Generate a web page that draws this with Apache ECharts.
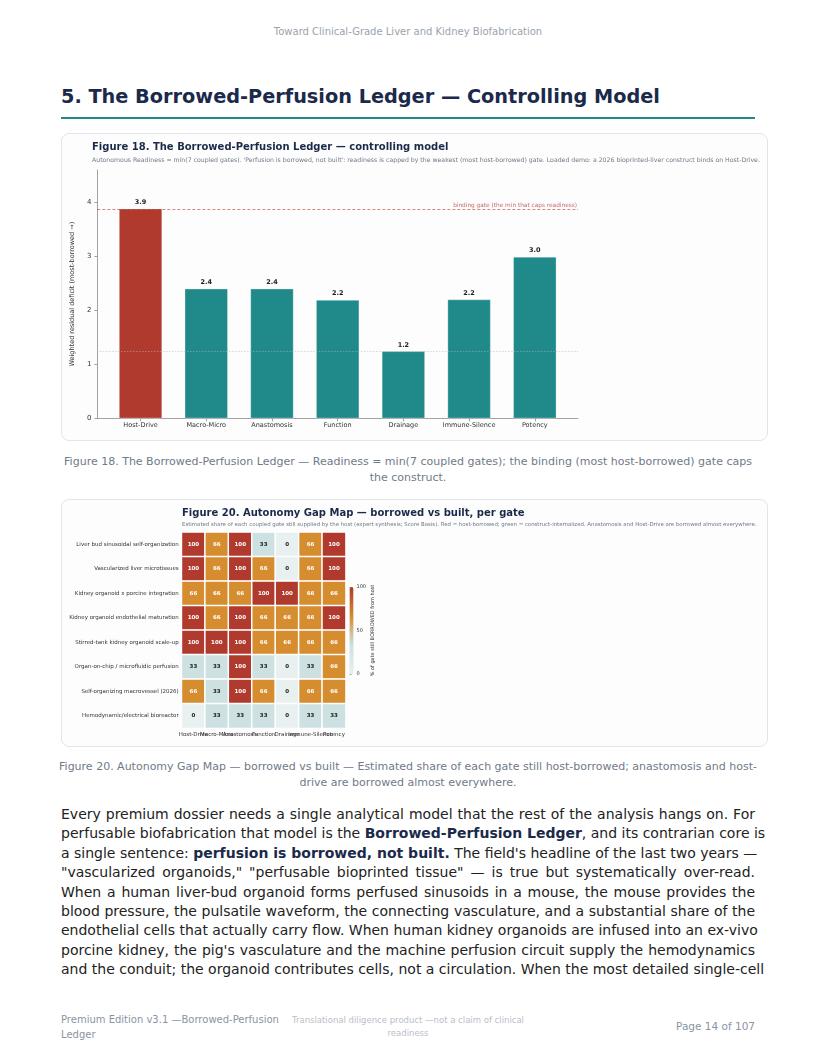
<!DOCTYPE html>
<html>
<head>
<meta charset="utf-8">
<script src="https://cdn.jsdelivr.net/npm/echarts@6/dist/echarts.min.js"></script>
<style>
  body{margin:0;background:#fff;font-family:'DejaVu Sans',sans-serif;}
  .page{position:relative;width:816px;height:1056px;overflow:hidden;}
  .abs{position:absolute;}
  .card{position:absolute;box-sizing:border-box;border:1px solid #e2e5e9;border-radius:8px;background:#fdfdfd;}
  .card .chart{position:absolute;left:-1px;top:-1px;}
  .caption{position:absolute;left:51px;width:714px;text-align:center;font-size:11px;line-height:15.5px;color:#6f7a88;white-space:nowrap;}
  .body{position:absolute;left:61px;top:805px;width:694px;font-size:14px;line-height:19.4px;color:#222;}
  .body div{text-align:justify;text-align-last:justify;white-space:nowrap;}
  .body b{color:#1b2a4a;}
</style>
</head>
<body>
<div class="page">
  <div class="abs" style="top:26px;left:0;width:816px;text-align:center;font-size:10px;color:#9aa3ae;">Toward Clinical-Grade Liver and Kidney Biofabrication</div>
  <div class="abs" style="left:61px;top:85px;font-size:19.3px;font-weight:bold;color:#1b2a4a;">5. The Borrowed-Perfusion Ledger — Controlling Model</div>
  <div class="abs" style="left:61px;top:117px;width:694px;height:2px;background:#1f8a89;"></div>

  <div class="card" style="left:61px;top:133px;width:707px;height:308px;">
    <div id="chart_ledger" class="chart" style="width:707px;height:308px;"></div>
  </div>
  <div class="caption" style="top:454px;">Figure 18. The Borrowed-Perfusion Ledger — Readiness = min(7 coupled gates); the binding (most host-borrowed) gate caps<br>the construct.</div>

  <div class="card" style="left:61px;top:499px;width:707px;height:248px;">
    <div id="chart_gap" class="chart" style="width:707px;height:248px;"></div>
  </div>
  <div class="caption" style="top:759px;">Figure 20. Autonomy Gap Map — borrowed vs built — Estimated share of each gate still host-borrowed; anastomosis and host-<br>drive are borrowed almost everywhere.</div>

  <div class="body">
    <div>Every premium dossier needs a single analytical model that the rest of the analysis hangs on. For</div>
    <div>perfusable biofabrication that model is the <b>Borrowed-Perfusion Ledger</b>, and its contrarian core is</div>
    <div>a single sentence: <b>perfusion is borrowed, not built.</b> The field's headline of the last two years —</div>
    <div>"vascularized organoids," "perfusable bioprinted tissue" — is true but systematically over-read.</div>
    <div>When a human liver-bud organoid forms perfused sinusoids in a mouse, the mouse provides the</div>
    <div>blood pressure, the pulsatile waveform, the connecting vasculature, and a substantial share of the</div>
    <div>endothelial cells that actually carry flow. When human kidney organoids are infused into an ex-vivo</div>
    <div>porcine kidney, the pig's vasculature and the machine perfusion circuit supply the hemodynamics</div>
    <div>and the conduit; the organoid contributes cells, not a circulation. When the most detailed single-cell</div>
  </div>

  <div class="abs" style="left:61px;top:1012px;width:225px;font-size:10px;line-height:15px;color:#8a94a3;">Premium Edition v3.1 —Borrowed-Perfusion Ledger</div>
  <div class="abs" style="left:280px;top:1014px;width:256px;text-align:center;font-size:8.5px;line-height:13px;color:#b9c0c9;">Translational diligence product —not a claim of clinical readiness</div>
  <div class="abs" style="right:61px;top:1020px;font-size:10.5px;color:#8a94a3;">Page 14 of 107</div>
</div>
<script>
	// gates shared by both figures
	var gates = ['Host-Drive','Macro-Micro','Anastomosis','Function','Drainage','Immune-Silence','Potency'];
	// Figure 18: weighted residual deficit per gate
	var deficit = [3.88, 2.40, 2.40, 2.19, 1.24, 2.20, 2.99];
	var deficitTicks = [0, 1, 2, 3, 4];
	var bindingLabel = 'binding gate (the min that caps readiness)';
	// Figure 20: % of gate still borrowed from host, one row per program
	var programs = [
		'Liver bud sinusoidal self-organization',
		'Vascularized liver microtissues',
		'Kidney organoid x porcine integration',
		'Kidney organoid endothelial maturation',
		'Stirred-tank kidney organoid scale-up',
		'Organ-on-chip / microfluidic perfusion',
		'Self-organizing macrovessel (2026)',
		'Hemodynamic/electrical bioreactor'
	];
	var rowLiverBud    = [100, 66, 100, 33, 0, 66, 100];
	var rowLiverMicro  = [100, 66, 100, 66, 0, 66, 100];
	var rowPorcine     = [66, 66, 66, 100, 100, 66, 66];
	var rowEndothelial = [100, 66, 100, 66, 66, 66, 100];
	var rowStirred     = [100, 100, 100, 66, 66, 66, 66];
	var rowChip        = [33, 33, 100, 33, 0, 33, 66];
	var rowMacrovessel = [66, 33, 100, 66, 0, 66, 66];
	var rowBioreactor  = [0, 33, 33, 33, 0, 33, 33];
	var borrowed = [rowLiverBud, rowLiverMicro, rowPorcine, rowEndothelial, rowStirred, rowChip, rowMacrovessel, rowBioreactor];
	var colorbarTicks = [0, 50, 100];

	var RED = '#b03a2e', TEAL = '#1f8a89', NAVY = '#1b2a4a';
	var font = 'DejaVu Sans';

	//柱状图
	var maxDef = Math.max.apply(null, deficit);
	var minDef = Math.min.apply(null, deficit);
	var gateIdx = gates.map(function(g, i){ return i; });
	var ledger = echarts.init(document.getElementById('chart_ledger'));
	ledger.setOption({
		animation: false,
		textStyle: {fontFamily: font},
		title: [{
			text: 'Figure 18. The Borrowed-Perfusion Ledger — controlling model',
			left: 31, top: 9, padding: 0,
			textStyle: {fontSize: 10, fontWeight: 'bold', color: NAVY, fontFamily: font}
		},{
			text: 'Autonomous Readiness = min(7 coupled gates). \'Perfusion is borrowed, not built\': readiness is capped by the weakest (most host-borrowed) gate. Loaded demo: a 2026 bioprinted-liver construct binds on Host-Drive.',
			left: 31, top: 24, padding: 0,
			textStyle: {fontSize: 6.2, fontWeight: 'normal', color: '#6f7a88', fontFamily: font}
		}],
		grid: {left: 31, top: 37, width: 486, height: 248.3},
		xAxis: {
			type: 'value', min: -0.6575, max: 6.6575,
			splitLine: {show: false},
			axisLine: {onZero: false, lineStyle: {color: '#8c8c8c', width: 0.8}},
			axisTick: {customValues: gateIdx, length: 3, lineStyle: {color: '#8c8c8c', width: 0.8}},
			axisLabel: {customValues: gateIdx, formatter: function(v){ return gates[v]; }, fontSize: 6.5, color: '#333', margin: 4}
		},
		yAxis: {
			type: 'value', min: 0, max: 4.6,
			splitLine: {show: false},
			axisLine: {show: true, onZero: false, lineStyle: {color: '#8c8c8c', width: 0.8}},
			axisTick: {show: true, customValues: deficitTicks, length: 3, lineStyle: {color: '#8c8c8c', width: 0.8}},
			axisLabel: {customValues: deficitTicks, fontSize: 7, color: '#333', margin: 6},
			name: 'Weighted residual deficit (most-borrowed →)',
			nameLocation: 'middle', nameGap: 12,
			nameTextStyle: {fontSize: 6.5, color: '#333'}
		},
		series: [{
			type: 'bar',
			barWidth: 43,
			data: deficit.map(function(v, i){ return [i, v]; }),
			itemStyle: {
				color: function(p){ return p.value[1] === maxDef ? RED : TEAL; },
				borderColor: 'rgba(255,255,255,0.6)', borderWidth: 0.5
			},
			label: {
				show: true, position: 'top', distance: 3,
				formatter: function(p){ return p.value[1].toFixed(1); },
				fontSize: 6.5, fontWeight: 'bold', color: '#222'
			},
			markLine: {
				silent: true, symbol: 'none',
				data: [{
					yAxis: maxDef,
					lineStyle: {type: [3, 2], color: RED, width: 0.7, opacity: 0.85},
					label: {show: true, position: 'insideEndTop', formatter: bindingLabel, fontSize: 5.8, color: '#c0504a', distance: [1, 0]}
				},{
					yAxis: minDef,
					lineStyle: {type: [1, 2], color: '#b5b5b5', width: 0.8},
					label: {show: false}
				}]
			}
		}]
	});

	//热力图
	var cells = [];
	borrowed.forEach(function(row, r){
		row.forEach(function(v, c){
			cells.push({value: [c, r, v], label: {color: v >= 50 ? '#fff' : '#222'}});
		});
	});
	var gap = echarts.init(document.getElementById('chart_gap'));
	gap.setOption({
		animation: false,
		textStyle: {fontFamily: font},
		title: [{
			text: 'Figure 20. Autonomy Gap Map — borrowed vs built, per gate',
			left: 121, top: 9, padding: 0,
			textStyle: {fontSize: 10, fontWeight: 'bold', color: NAVY, fontFamily: font}
		},{
			text: 'Estimated share of each coupled gate still supplied by the host (expert synthesis; Score Basis). Red = host-borrowed; green = construct-internalized. Anastomosis and Host-Drive are borrowed almost everywhere.',
			left: 121, top: 23, padding: 0,
			textStyle: {fontSize: 5.4, fontWeight: 'normal', color: '#6f7a88', fontFamily: font}
		}],
		grid: [
			{left: 120.7, top: 33.3, width: 164, height: 196},
			{left: 288.5, top: 88, width: 4, height: 87}
		],
		xAxis: [{
			type: 'category', data: gates, gridIndex: 0,
			axisLine: {show: false}, axisTick: {show: false},
			axisLabel: {interval: 0, fontSize: 5.5, color: '#333', margin: 3}
		},{
			type: 'value', gridIndex: 1, show: false
		}],
		yAxis: [{
			type: 'category', data: programs, inverse: true, gridIndex: 0,
			axisLine: {show: false}, axisTick: {show: false},
			axisLabel: {fontSize: 5.5, color: '#333', margin: 3}
		},{
			type: 'value', gridIndex: 1, min: 0, max: 100, position: 'right',
			splitLine: {show: false},
			axisLine: {show: false},
			axisTick: {show: true, customValues: colorbarTicks, length: 2, lineStyle: {color: '#666', width: 0.6}},
			axisLabel: {customValues: colorbarTicks, fontSize: 5, color: '#333', margin: 3},
			name: '% of gate still BORROWED from host',
			nameLocation: 'middle', nameGap: 17,
			nameTextStyle: {fontSize: 5, color: '#333'}
		}],
		visualMap: {
			type: 'continuous', min: 0, max: 100, seriesIndex: 0,
			left: 288.5, top: 88, itemWidth: 4, itemHeight: 87, padding: 0,
			calculable: false, text: null, hoverLink: false,
			inRange: {color: ['#e8f1f0', '#cde0e2', '#d58b2b', '#b03a2e']}
		},
		series: [{
			type: 'heatmap', xAxisIndex: 0, yAxisIndex: 0,
			data: cells,
			itemStyle: {borderColor: '#fff', borderWidth: 1.5},
			label: {show: true, fontSize: 5.5, fontWeight: 'bold'}
		}]
	});
</script>
</body>
</html>
